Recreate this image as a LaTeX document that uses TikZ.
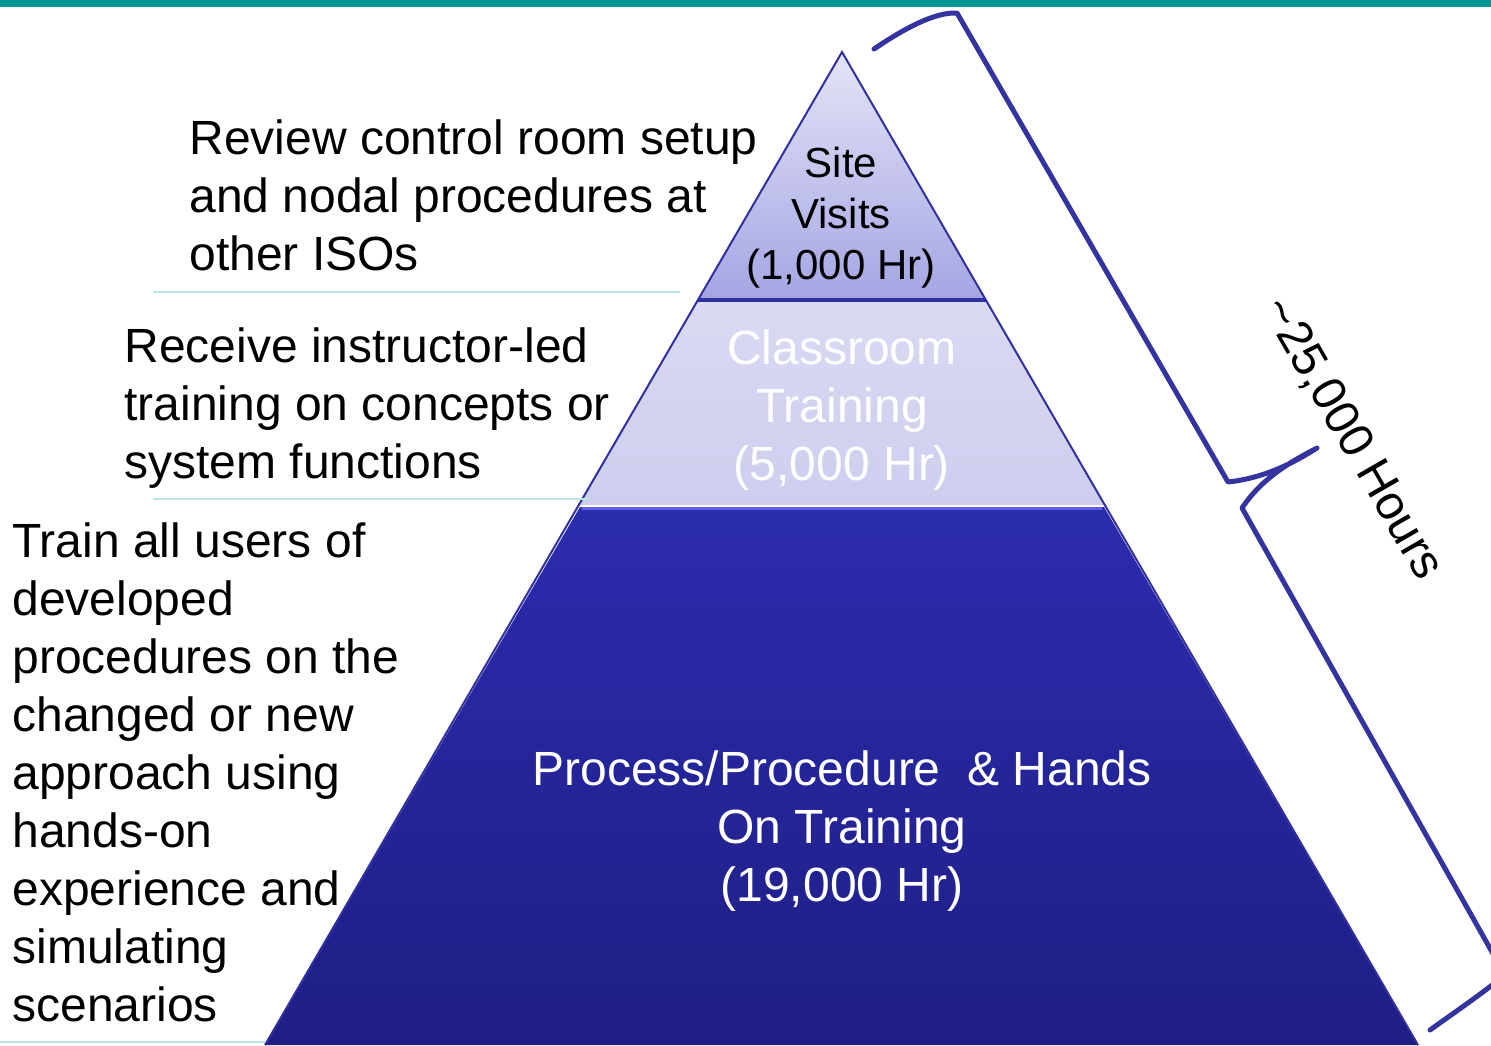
\documentclass[tikz,border=0pt]{standalone}
\usepackage{fontspec}
\setmainfont{Liberation Sans}
\usetikzlibrary{positioning}
\definecolor{tealbar}{RGB}{0,150,150}
\definecolor{sepline}{RGB}{190,228,228}
\definecolor{pyrline}{RGB}{48,48,158}
\definecolor{bracecol}{RGB}{52,52,160}
\definecolor{handstop}{RGB}{44,44,175}
\definecolor{handsbot}{RGB}{30,30,132}
\definecolor{handsedge}{RGB}{95,95,230}
\definecolor{classtop}{RGB}{218,218,244}
\definecolor{classbot}{RGB}{205,205,238}
\definecolor{sitetop}{RGB}{228,228,247}
\definecolor{sitebot}{RGB}{165,165,228}
\tikzset{
  desc/.style={align=left, anchor=west, inner sep=0pt,
    font=\fontsize{24}{29}\selectfont},
  tier/.style={align=center, inner sep=0pt,
    font=\fontsize{24}{29}\selectfont},
}
\begin{document}
\begin{tikzpicture}[x=0.5pt,y=-0.5pt]
\useasboundingbox (0,0) rectangle (1491,1045);
\clip (0,0) rectangle (1491,1045);
\fill[tealbar] (0,0) rectangle (1491,7);
% corners of the pyramid
\coordinate (apex) at (842,52);
\coordinate (bl) at (265,1045);
\coordinate (br) at (1418,1045);
% tier 3: hands on
\shade[top color=handstop, bottom color=handsbot]
  (580,507) -- (1104,507) -- (br) -- (bl) -- cycle;
\draw[handsedge, line width=1.5pt] (582,508) -- (1102,508);
% tier 2: classroom
\shade[top color=classtop, bottom color=classbot]
  (698,300) -- (986,300) -- (1105,505) -- (579,505) -- cycle;
% tier 1: site visits
\shade[top color=sitetop, bottom color=sitebot]
  (apex) -- (986,300) -- (698,300) -- cycle;
\draw[pyrline, line width=1pt, line join=miter] (bl) -- (apex) -- (br);
\draw[pyrline, line width=1.8pt] (698,300) -- (986,300);
% separators
\draw[sepline, line width=1pt] (153,292) -- (680,292);
\draw[sepline, line width=1pt] (153,499) -- (590,499);
\draw[sepline, line width=1pt] (0,1042) -- (265,1042);
% brace
\draw[bracecol, line width=2.5pt, line join=round, line cap=round]
  (874,49) .. controls (905,28) and (935,12) .. (957,13)
  -- (1228,482) .. controls (1265,478) and (1295,462) .. (1317,448)
  .. controls (1290,462) and (1262,478) .. (1242,508)
  -- (1505,975) .. controls (1480,995) and (1455,1012) .. (1430,1030);
% texts
\node[desc] (review) at (189,195) {Review control room setup\\and nodal procedures at\\other ISOs};
\node[desc] (receive) at (124,408) {Receive instructor-led\\training on concepts or\\system functions};
\node[desc] (train) at (12,772) {Train all users of\\developed\\procedures on the\\changed or new\\approach using\\hands-on\\experience and\\simulating\\scenarios};
\node[tier, font=\fontsize{21}{25.5}\selectfont] (site) at (841,218) {Site\\Visits\\(1,000 Hr)};
\node[tier, text=white] (class) at (842,410) {Classroom\\Training\\(5,000 Hr)};
\node[tier, text=white] (hands) at (842,831) {Process/Procedure\ \ \& Hands\\On Training\\(19,000 Hr)};
\node[tier, rotate=-60] (total) at (1352,439) {\textasciitilde25,000 Hours};
\end{tikzpicture}
\end{document}
